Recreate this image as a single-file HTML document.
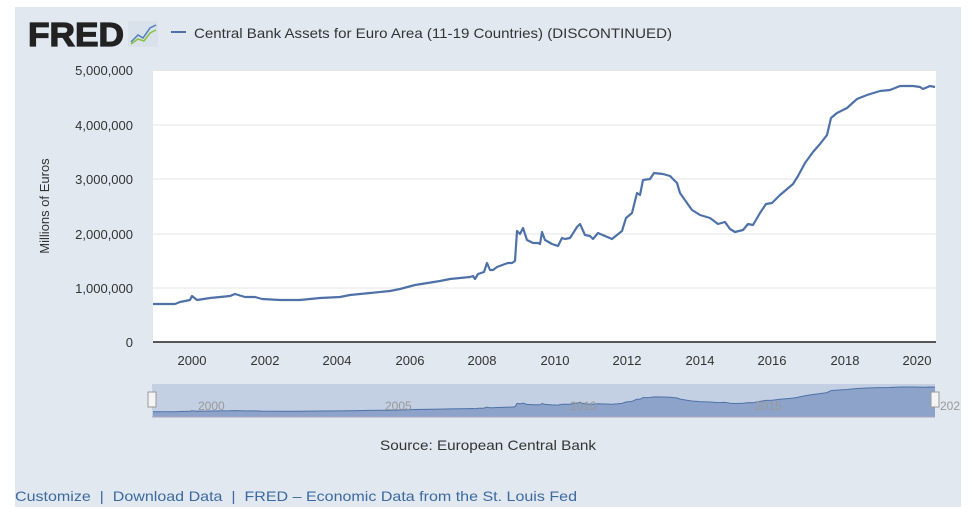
<!DOCTYPE html>
<html><head><meta charset="utf-8"><style>
body{margin:0;width:972px;height:518px;background:#fff;font-family:"Liberation Sans",sans-serif;overflow:hidden;position:relative}
#bg{position:absolute;left:15px;top:7px;width:946px;height:500px;background:#e1e8f0}
</style></head><body>
<div id="bg"></div>
<svg width="972" height="518" style="position:absolute;left:0;top:0" id="s">
<text x="28" y="46" font-family="Liberation Sans" font-weight="bold" font-size="33" fill="#222" stroke="#222" stroke-width="1.2" textLength="96" lengthAdjust="spacingAndGlyphs">FRED</text>
<rect x="128" y="21" width="30" height="26" fill="#d9e2ea" rx="2"/>
<polyline points="131,42 138,35 143,38 150,28 156,25" fill="none" stroke="#4e7fbf" stroke-width="1.5"/>
<polyline points="131,44 138,39 144,41 150,33 156,30" fill="none" stroke="#8cbf3f" stroke-width="1.5"/>
<line x1="171" y1="32" x2="186" y2="32" stroke="#4e72a8" stroke-width="2"/>
<text x="194" y="38" font-size="14" fill="#333" textLength="478" lengthAdjust="spacingAndGlyphs">Central Bank Assets for Euro Area (11-19 Countries) (DISCONTINUED)</text>
<rect x="153" y="70" width="783" height="272" fill="#fff"/>
<g stroke="#e6e6e6" stroke-width="1">
<line x1="153" x2="936" y1="70.5" y2="70.5"/><line x1="153" x2="936" y1="125" y2="125"/><line x1="153" x2="936" y1="179" y2="179"/><line x1="153" x2="936" y1="234" y2="234"/><line x1="153" x2="936" y1="288" y2="288"/>
</g>
<line x1="153" x2="936" y1="342" y2="342" stroke="#222" stroke-width="1.5"/>
<g font-size="13" fill="#333" text-anchor="end">
<text x="133" y="75">5,000,000</text><text x="133" y="130">4,000,000</text><text x="133" y="184">3,000,000</text><text x="133" y="239">2,000,000</text><text x="133" y="293">1,000,000</text><text x="133" y="347">0</text>
</g>
<g font-size="13" fill="#333" text-anchor="middle">
<text x="192" y="365">2000</text><text x="265" y="365">2002</text><text x="337" y="365">2004</text><text x="410" y="365">2006</text><text x="482" y="365">2008</text><text x="555" y="365">2010</text><text x="627" y="365">2012</text><text x="700" y="365">2014</text><text x="772" y="365">2016</text><text x="845" y="365">2018</text><text x="917" y="365">2020</text>
</g>
<text transform="translate(49,206) rotate(-90)" font-size="13" fill="#333" text-anchor="middle">Millions of Euros</text>
<rect x="152" y="384" width="783" height="33" fill="#c3cfe2"/>
<polygon id="na" fill="#8ea3c9"/>
<polyline id="nl" fill="none" stroke="#4e72a8" stroke-width="1"/>
<line x1="152" x2="935" y1="417" y2="417" stroke="#aab" stroke-width="1"/>
<g font-size="12" fill="#999">
<text x="198" y="410">2000</text><text x="385" y="410">2005</text><text x="570" y="410">2010</text><text x="755" y="410">2015</text><text x="940" y="410">202</text>
</g>
<rect x="148" y="392" width="8" height="15" fill="#f4f4f4" stroke="#999"/>
<rect x="931" y="392" width="8" height="15" fill="#f4f4f4" stroke="#999"/>
<polyline id="ml" fill="none" stroke="#4e72a8" stroke-width="2.2" stroke-linejoin="round"/>
<text x="380" y="450" font-size="14" fill="#333" textLength="216" lengthAdjust="spacingAndGlyphs">Source: European Central Bank</text>
<text x="15" y="501" font-size="14" fill="#3c6a9f" textLength="562" lengthAdjust="spacingAndGlyphs" xml:space="preserve">Customize  |  Download Data  |  FRED – Economic Data from the St. Louis Fed</text>
</svg>
<script>
var p=[[153,304],[175,304],[180,302],[190,300],[192,296],[197,300],[210,298],[230,296],[235,294],[245,297],[255,297],[262,299],[280,300],[300,300],[320,298],[340,297],[350,295],[370,293],[390,291],[400,289],[415,285],[440,281],[450,279],[460,278],[470,277],[473,276],[475,279],[478,274],[484,272],[487,263],[490,270],[493,270],[497,267],[505,264],[508,263],[512,263],[515,261],[517,231],[520,234],[523,228],[527,240],[533,243],[538,243],[540,244],[542,232],[545,240],[552,244],[558,246],[562,238],[565,239],[570,238],[577,227],[580,224],[585,235],[590,236],[593,239],[598,233],[605,236],[612,239],[617,235],[622,231],[626,218],[632,213],[637,193],[640,195],[643,180],[650,179],[654,173],[663,174],[670,176],[677,183],[680,193],[687,203],[692,210],[700,215],[710,218],[718,224],[725,222],[730,229],[735,232],[743,230],[748,224],[753,225],[760,213],[766,204],[772,203],[780,195],[793,184],[798,176],[805,163],[813,152],[820,144],[827,135],[831,118],[837,113],[847,108],[857,99],[867,95],[880,91],[890,90],[900,86],[913,86],[920,87],[923,89],[930,86],[935,87]];
document.getElementById('ml').setAttribute('points',p.map(a=>a.join(',')).join(' '));
var n=p.map(a=>[a[0],(416-(342-a[1])*29/256).toFixed(1)]);
document.getElementById('nl').setAttribute('points',n.map(a=>a.join(',')).join(' '));
document.getElementById('na').setAttribute('points',n.map(a=>a.join(',')).join(' ')+' 935,417 153,417');
</script>
</body></html>
